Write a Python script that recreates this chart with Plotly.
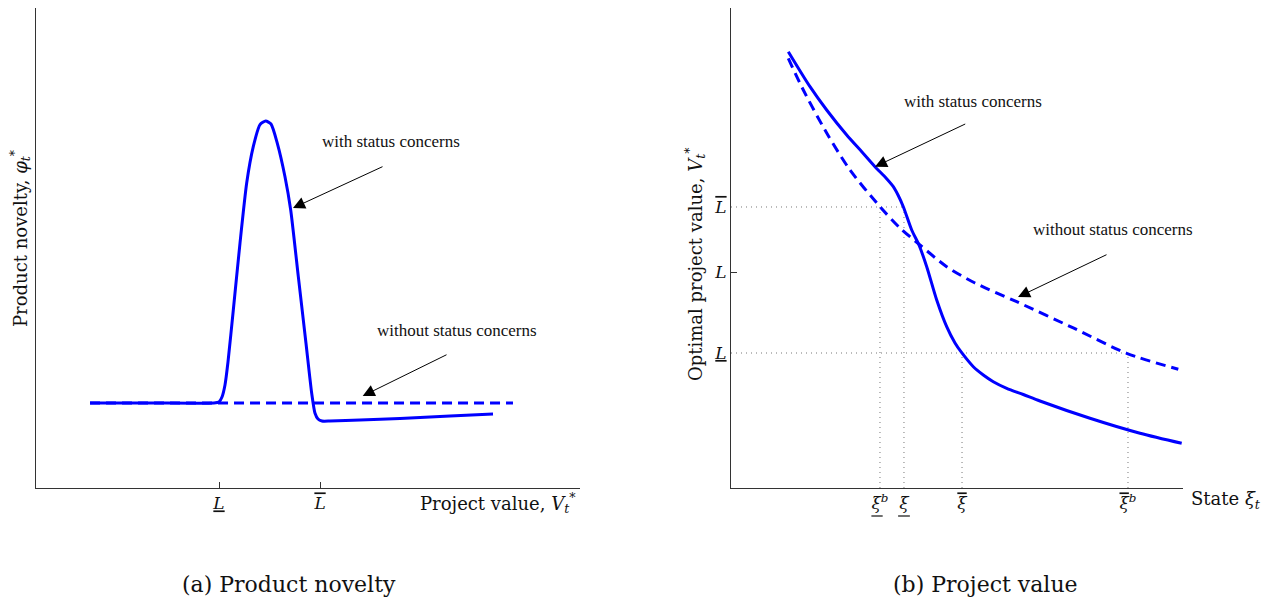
import plotly.graph_objects as go

# ---------------- Panel (a): product novelty ----------------
a_x_with = [0.993, 2.096, 3.272, 3.364, 3.419, 3.474, 3.529, 3.627, 3.750, 3.873, 3.994,
            4.118, 4.222, 4.320, 4.436, 4.577, 4.682, 4.822, 4.963, 5.068, 5.129, 5.184,
            5.257, 5.404, 5.956, 6.691, 7.610, 8.401]
a_y_with = [1.760, 1.760, 1.760, 1.781, 1.884, 2.133, 2.609, 3.685, 5.072, 6.315, 7.066,
            7.524, 7.598, 7.536, 7.137, 6.445, 5.756, 4.375, 2.996, 1.961, 1.547, 1.429,
            1.387, 1.387, 1.408, 1.439, 1.491, 1.532]
a_x_without = [0.993, 8.768]
a_y_without = [1.760, 1.760]
a_tickvals = [3.364, 5.221]

# ---------------- Panel (b): project value ----------------
b_x_with = [1.268, 1.748, 2.117, 2.560, 2.898, 3.186, 3.429, 3.591, 3.695, 3.812, 3.998,
            4.159, 4.330, 4.551, 4.772, 4.956, 5.104, 5.361, 5.582, 5.803, 6.100, 6.467,
            6.836, 7.942, 9.049, 9.971]
b_y_with = [9.033, 8.309, 7.826, 7.308, 6.957, 6.652, 6.418, 6.238, 6.066, 5.824, 5.342,
            5.031, 4.582, 3.892, 3.340, 3.002, 2.801, 2.511, 2.340, 2.201, 2.064, 1.936,
            1.801, 1.443, 1.133, 0.925]
b_x_without = [1.268, 1.600, 2.117, 2.633, 3.296, 3.739, 4.181, 4.772, 5.398, 6.321, 7.573, 8.754, 9.896]
b_y_without = [8.896, 8.240, 7.350, 6.584, 5.824, 5.383, 5.031, 4.582, 4.244, 3.857, 3.313, 2.789, 2.458]

L_hi, L_mid, L_lo = 5.818, 4.472, 2.795
xi_lo_b, xi_lo, xi_hi, xi_hi_b = 3.296, 3.827, 5.111, 8.783

OVER = "<span style='text-decoration:overline'>{}</span>"
UNDER = "<span style='text-decoration:underline'>{}</span>"
a_ticktext = [UNDER.format("<i>L</i>"), OVER.format("<i>L</i>")]
b_ytickvals = [L_hi, L_mid, L_lo]
b_yticktext = [OVER.format("<i>L</i>"), "<i>L</i>", UNDER.format("<i>L</i>")]
b_xtickvals = [xi_lo_b, xi_lo, xi_hi, xi_hi_b]
b_xticktext = ["<i>\u03be</i><sup><i>b</i></sup>",
               "<i>\u03be</i>",
               OVER.format("<i>\u03be</i>"),
               OVER.format("<i>\u03be</i>") + "<sup><i>b</i></sup>"]

BLUE = "#0000ff"
SERIF = "Liberation Serif"
CM = "DejaVu Serif"
DASH = "10px,6px"
INK = "#111111"

# page body has an 8px margin: map reference pixel positions to paper coords
W, H = 1265, 595
def fx(px):
    return (px - 8) / W
def fy(py):
    return (603 - py) / H

fig = go.Figure()

fig.add_trace(go.Scatter(x=a_x_without, y=a_y_without, mode="lines",
                         line=dict(color=BLUE, width=3, dash=DASH), xaxis="x", yaxis="y"))
fig.add_trace(go.Scatter(x=a_x_with, y=a_y_with, mode="lines", line_shape="spline",
                         line=dict(color=BLUE, width=3, smoothing=0.6), xaxis="x", yaxis="y"))

dot = dict(color="#777777", width=1, dash="1px,4px")
guides = [
    ([0, xi_lo], [L_hi, L_hi]),
    ([xi_lo_b, xi_lo_b], [0, L_hi]),
    ([xi_lo, xi_lo], [0, L_hi]),
    ([0, xi_hi_b], [L_lo, L_lo]),
    ([xi_hi, xi_hi], [0, L_lo]),
    ([xi_hi_b, xi_hi_b], [0, L_lo]),
]
for gx, gy in guides:
    fig.add_trace(go.Scatter(x=gx, y=gy, mode="lines", line=dot, xaxis="x2", yaxis="y2"))

fig.add_trace(go.Scatter(x=b_x_without, y=b_y_without, mode="lines", line_shape="spline",
                         line=dict(color=BLUE, width=3, dash=DASH, smoothing=0.8), xaxis="x2", yaxis="y2"))
fig.add_trace(go.Scatter(x=b_x_with, y=b_y_with, mode="lines", line_shape="spline",
                         line=dict(color=BLUE, width=3, smoothing=0.8), xaxis="x2", yaxis="y2"))

axis_common = dict(showgrid=False, zeroline=False, showline=True, linecolor="#333333",
                   linewidth=1, fixedrange=True)
ydom = [fy(488), 1.0]
yrange = [0, 9.938]
tickfont = dict(family=CM, size=17, color=INK)

fig.update_layout(
    width=W, height=H, margin=dict(l=0, r=0, t=0, b=0),
    paper_bgcolor="white", plot_bgcolor="white", showlegend=False,
    xaxis=dict(axis_common, domain=[fx(36), fx(580)], range=[0, 10], anchor="y",
               tickmode="array", tickvals=a_tickvals, ticktext=a_ticktext,
               ticks="inside", ticklen=6, tickcolor="#333333", tickfont=tickfont),
    yaxis=dict(axis_common, domain=ydom, range=yrange, anchor="x", showticklabels=False, ticks=""),
    xaxis2=dict(axis_common, domain=[fx(731), fx(1183)], range=[0, 10], anchor="y2",
                tickmode="array", tickvals=b_xtickvals, ticktext=b_xticktext,
                ticks="", tickfont=tickfont),
    yaxis2=dict(axis_common, domain=ydom, range=yrange, anchor="x2",
                tickmode="array", tickvals=b_ytickvals, ticktext=b_yticktext,
                ticks="", tickfont=tickfont,
                minor=dict(tickmode="array", tickvals=[L_mid], ticks="inside",
                           ticklen=6, tickcolor="#333333")),
)

# underline bars for the two lower-bar xi tick labels
for xv, lo, hi in [(xi_lo_b, -0.19, 0.06), (xi_lo, -0.13, 0.13)]:
    fig.add_shape(type="line", xref="x2", yref="paper", x0=xv + lo, x1=xv + hi,
                  y0=fy(516), y1=fy(516), line=dict(color=INK, width=1.2))

txt = dict(family=SERIF, size=17, color=INK)
lab = dict(family=CM, size=18, color=INK)
cap = dict(family=CM, size=22, color=INK)

def note(x, y, text, font, **kw):
    d = dict(x=x, y=y, text=text, showarrow=False, font=font,
             xanchor="center", yanchor="middle")
    d.update(kw)
    return d

ann = [
    note(6.526, 7.164, "with status concerns", txt, xref="x", yref="y"),
    note(7.739, 3.271, "without status concerns", txt, xref="x", yref="y"),
    note(5.354, 7.992, "with status concerns", txt, xref="x2", yref="y2"),
    note(8.451, 5.342, "without status concerns", txt, xref="x2", yref="y2"),
    note(fx(578), fy(503), "Project value, <i>V</i><sub><i>t</i></sub><sup>*</sup>", lab,
         xref="paper", yref="paper", xanchor="right"),
    note(fx(1189), fy(500), "State <i>\u03be</i><sub><i>t</i></sub>", lab,
         xref="paper", yref="paper", xanchor="left"),
    note(fx(20), fy(238), "Product novelty, <i>\u03c6</i><sub><i>t</i></sub><sup>*</sup>", lab,
         xref="paper", yref="paper", textangle=-90),
    note(fx(695), fy(264), "Optimal project value, <i>V</i><sub><i>t</i></sub><sup>*</sup>", lab,
         xref="paper", yref="paper", textangle=-90),
    note(fx(289), fy(584), "(a) Product novelty", cap, xref="paper", yref="paper"),
    note(fx(985), fy(584), "(b) Project value", cap, xref="paper", yref="paper"),
]

arrows = [
    ("x", "y", 4.724, 5.797, 6.397, 6.667),
    ("x", "y", 6.005, 1.905, 7.574, 2.774),
    ("x2", "y2", 3.186, 6.652, 5.215, 7.551),
    ("x2", "y2", 6.350, 3.954, 8.341, 4.845),
]
for xr, yr, tx, ty, sx, sy in arrows:
    ann.append(dict(x=tx, y=ty, ax=sx, ay=sy, xref=xr, yref=yr, axref=xr, ayref=yr,
                    text="", showarrow=True, arrowhead=2, arrowsize=2.4, arrowwidth=1,
                    arrowcolor="black", standoff=0, startstandoff=0))

fig.update_layout(annotations=ann)
fig.write_html("out.html")
